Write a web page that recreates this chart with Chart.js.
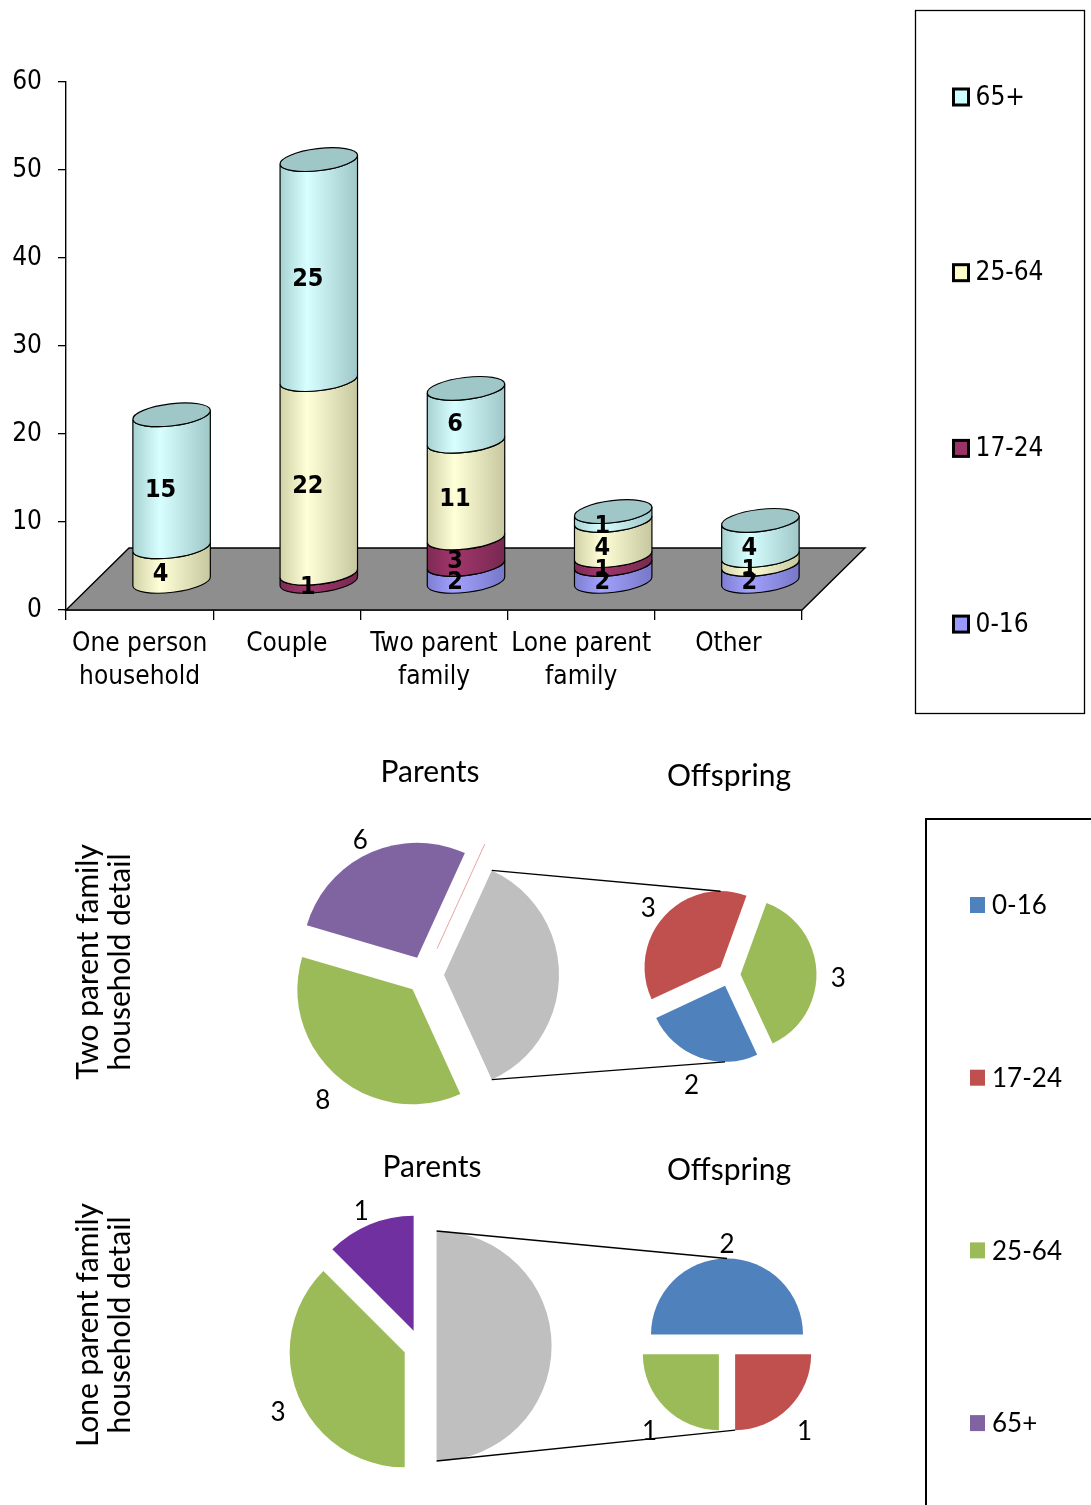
<!DOCTYPE html>
<html>
<head>
<meta charset="utf-8">
<script src="https://cdn.jsdelivr.net/npm/chart.js@4.4.1/dist/chart.umd.min.js"></script>
<style>
  body { margin: 0; background: #fff; }
  #page { position: relative; width: 1091px; height: 1505px; overflow: hidden; }
  canvas { position: absolute; left: 0; }
</style>
</head>
<body>
<div id="page">
  <canvas id="barChart" width="1091" height="720" style="top:0;width:1091px;height:720px"></canvas>
  <canvas id="tpParents" width="1091" height="785" style="top:720px;width:1091px;height:785px"></canvas>
  <canvas id="tpOffspring" width="1091" height="785" style="top:720px;width:1091px;height:785px"></canvas>
  <canvas id="lpParents" width="1091" height="785" style="top:720px;width:1091px;height:785px"></canvas>
  <canvas id="lpOffspring" width="1091" height="785" style="top:720px;width:1091px;height:785px"></canvas>
</div>
<script>
// ---- data ----
const householdTypes = [['One person', 'household'], 'Couple', ['Two parent', 'family'], ['Lone parent', 'family'], 'Other'];
const ageGroups = ['0-16', '17-24', '25-64', '65+'];
const age0to16  = [0, 0, 2, 2, 2];
const age17to24 = [0, 1, 3, 1, 0];
const age25to64 = [4, 22, 11, 4, 1];
const age65plus = [15, 25, 6, 1, 4];

// pie of pie detail (Offspring = the grey slice split out on the right)
const tpParentsLabels   = ['Offspring', '25-64', '65+', '17-24'];
const tpParentsValues   = [8, 8, 6, 0];
const tpOffspringLabels = ['25-64', '0-16', '17-24'];
const tpOffspringValues = [3, 2, 3];
const lpParentsLabels   = ['Offspring', '25-64', '65+'];
const lpParentsValues   = [4, 3, 1];
const lpOffspringLabels = ['0-16', '17-24', '25-64'];
const lpOffspringValues = [2, 1, 1];

// ---- styles ----
const barColors = ['#9999FF', '#993366', '#FFFFCC', '#CCFFFF'];
const pieColors = { '0-16': '#4F81BD', '17-24': '#C0504D', '25-64': '#9BBB59', '65+': '#8064A2', 'Offspring': '#BFBFBF' };
const TOP_FONT = '"DejaVu Sans Condensed", "DejaVu Sans", sans-serif';
const LOW_FONT = 'Lato, "Open Sans", sans-serif';
const BOTTOM_TOP = 720;   // page y of the pie canvases
const TILT = -0.12;

function shade(hex, f) {
  const n = parseInt(hex.slice(1), 16);
  const c = [(n >> 16) & 255, (n >> 8) & 255, n & 255].map(v => Math.min(255, Math.round(v * f)));
  return 'rgb(' + c.join(',') + ')';
}

function drawSegment(ctx, cx, yTop, yBot, rx, ry, color) {
  const g = ctx.createLinearGradient(cx - rx, 0, cx + rx, 0);
  g.addColorStop(0, shade(color, 0.82));
  g.addColorStop(0.35, shade(color, 1.06));
  g.addColorStop(1, shade(color, 0.78));
  ctx.beginPath();
  ctx.ellipse(cx, yBot, rx, ry, TILT, Math.PI, 0, true);
  ctx.ellipse(cx, yTop, rx, ry, TILT, 0, Math.PI, false);
  ctx.closePath();
  ctx.fillStyle = g;
  ctx.fill();
  ctx.stroke();
}

// 3D floor + cylinders, positioned from the bar elements
const cylinders = {
  id: 'cylinders',
  beforeDatasetsDraw(chart, args, o) {
    const ctx = chart.ctx, xs = chart.scales.x, ys = chart.scales.y;
    const y0 = ys.getPixelForValue(0);
    ctx.save();
    ctx.beginPath();
    ctx.moveTo(xs.left, y0);
    ctx.lineTo(xs.right, y0);
    ctx.lineTo(xs.right + o.depthX, y0 + o.depthY);
    ctx.lineTo(xs.left + o.depthX, y0 + o.depthY);
    ctx.closePath();
    ctx.fillStyle = '#8E8E8E';
    ctx.fill();
    ctx.lineWidth = 1.4;
    ctx.strokeStyle = '#000';
    ctx.stroke();

    const labels = [];
    ctx.lineWidth = 1.2;
    chart.data.labels.forEach((_, i) => {
      let topSeg = null;
      chart.data.datasets.forEach((ds, k) => {
        const v = ds.data[i];
        if (!v) return;
        const bar = chart.getDatasetMeta(k).data[i];
        const cx = bar.x + o.shiftX, rx = bar.width / 2;
        const yTop = bar.y + o.shiftY, yBot = bar.base + o.shiftY;
        drawSegment(ctx, cx, yTop, yBot, rx, o.ry, ds.backgroundColor);
        topSeg = { cx, rx, yTop, color: ds.backgroundColor };
        labels.push({ text: String(v), x: cx - 11, y: (yTop + yBot) / 2 + 10 });
      });
      if (topSeg) {
        ctx.beginPath();
        ctx.ellipse(topSeg.cx, topSeg.yTop, topSeg.rx, o.ry, TILT, 0, Math.PI * 2);
        ctx.fillStyle = shade(topSeg.color, 0.78);
        ctx.fill();
        ctx.stroke();
      }
    });
    ctx.fillStyle = '#000';
    ctx.font = 'bold 25px ' + TOP_FONT;
    ctx.textAlign = 'center';
    ctx.textBaseline = 'middle';
    labels.forEach(l => ctx.fillText(l.text, l.x, l.y));
    ctx.restore();
    return false;
  }
};

const boxLegend = {
  id: 'boxLegend',
  afterDraw(chart, args, o) {
    const ctx = chart.ctx;
    ctx.save();
    ctx.strokeStyle = '#000';
    ctx.lineWidth = 1.3;
    ctx.strokeRect(o.x, o.y, o.w, o.h);
    ctx.font = '26px ' + TOP_FONT;
    ctx.textBaseline = 'middle';
    ctx.textAlign = 'left';
    const items = chart.data.datasets.slice().reverse();
    items.forEach((ds, k) => {
      const y = o.firstY + k * o.stepY;
      ctx.fillStyle = ds.backgroundColor;
      ctx.fillRect(o.x + 38, y - 8, 15, 16);
      ctx.lineWidth = 3;
      ctx.strokeRect(o.x + 38, y - 8, 15, 16);
      ctx.fillStyle = '#000';
      ctx.fillText(ds.label, o.x + 60, y + 1);
    });
    ctx.restore();
  }
};

new Chart(document.getElementById('barChart'), {
  type: 'bar',
  data: {
    labels: householdTypes,
    datasets: [age0to16, age17to24, age25to64, age65plus].map((data, k) => ({
      label: ageGroups[k], data, backgroundColor: barColors[k]
    }))
  },
  options: {
    responsive: false,
    animation: false,
    layout: { padding: { top: 82, right: 289, left: 0, bottom: 0 } },
    datasets: { bar: { barPercentage: 0.53, categoryPercentage: 1 } },
    plugins: {
      legend: { display: false },
      tooltip: { enabled: false },
      cylinders: { depthX: 63, depthY: -62, shiftX: 32, shiftY: -28, ry: 11 },
      boxLegend: { x: 915.5, y: 10.5, w: 169, h: 703, firstY: 97, stepY: 175.7 }
    },
    scales: {
      x: {
        stacked: true,
        grid: { offset: true, drawOnChartArea: false, tickLength: 10, color: '#000', lineWidth: 1.3 },
        border: { color: '#000', width: 1.4 },
        ticks: { color: '#000', font: { family: TOP_FONT, size: 26, lineHeight: 1.25 }, padding: 8, maxRotation: 0, autoSkip: false },
        afterFit(s) { s.height = 110; }
      },
      y: {
        stacked: true,
        min: 0, max: 60,
        grid: { drawOnChartArea: false, tickLength: 8, color: '#000', lineWidth: 1.3 },
        border: { color: '#000', width: 1.4 },
        ticks: { stepSize: 10, color: '#000', font: { family: TOP_FONT, size: 26 }, padding: 16 },
        afterFit(s) { s.width = 66; }
      }
    }
  },
  plugins: [cylinders, boxLegend]
});

// ---- pies ----
const pieCharts = {};

function arcGeom(chart, i, explode) {
  const arc = chart.getDatasetMeta(0).data[i];
  const mid = (arc.startAngle + arc.endAngle) / 2;
  return {
    cx: arc.x, cy: arc.y,
    x: arc.x + Math.cos(mid) * explode, y: arc.y + Math.sin(mid) * explode,
    r: arc.outerRadius, s: arc.startAngle, e: arc.endAngle, mid
  };
}

function extremePoint(chart, ang, explode, sign) {
  const n = chart.data.datasets[0].data.length;
  for (let i = 0; i < n; i++) {
    const a = arcGeom(chart, i, explode);
    if (a.e - a.s < 1e-6) continue;
    let t = ang;
    while (t < a.s) t += Math.PI * 2;
    while (t > a.s + Math.PI * 2) t -= Math.PI * 2;
    if (t <= a.e) return { x: a.x, y: a.y + sign * a.r };
  }
  return null;
}

const explodedPie = {
  id: 'explodedPie',
  beforeDatasetsDraw(chart, args, o) {
    const ctx = chart.ctx, ds = chart.data.datasets[0];
    ctx.save();
    ds.data.forEach((v, i) => {
      const a = arcGeom(chart, i, o.explode);
      if (v === 0) {
        const dx = Math.cos(a.s), dy = Math.sin(a.s);
        ctx.strokeStyle = '#E9A3A3';
        ctx.lineWidth = 1;
        ctx.beginPath();
        ctx.moveTo(a.cx + dx * o.zeroOffset, a.cy + dy * o.zeroOffset);
        ctx.lineTo(a.cx + dx * (o.zeroOffset + a.r), a.cy + dy * (o.zeroOffset + a.r));
        ctx.stroke();
        return;
      }
      ctx.beginPath();
      ctx.moveTo(a.x, a.y);
      ctx.arc(a.x, a.y, a.r, a.s, a.e);
      ctx.closePath();
      ctx.fillStyle = ds.backgroundColor[i];
      ctx.fill();
      if (chart.data.labels[i] !== 'Offspring') {
        const lr = a.r + o.labelGap;
        ctx.fillStyle = '#000';
        ctx.font = '26px ' + LOW_FONT;
        ctx.textAlign = 'center';
        ctx.textBaseline = 'middle';
        ctx.fillText(String(v), a.x + Math.cos(a.mid) * lr, a.y + Math.sin(a.mid) * lr + 8);
      }
    });
    ctx.restore();
    return false;
  },
  afterDraw(chart, args, o) {
    const ctx = chart.ctx;
    ctx.save();
    ctx.fillStyle = '#000';
    ctx.textAlign = 'center';
    ctx.textBaseline = 'middle';
    if (o.title) {
      ctx.font = '30px ' + LOW_FONT;
      ctx.fillText(o.title.text, o.title.x, o.title.y);
    }
    if (o.rowLabel) {
      ctx.font = '30px ' + LOW_FONT;
      ctx.translate(o.rowLabel.x, o.rowLabel.y);
      ctx.rotate(-Math.PI / 2);
      o.rowLabel.lines.forEach((t, k) => ctx.fillText(t, 0, (k - 0.5) * 32));
      ctx.setTransform(1, 0, 0, 1, 0, 0);
    }
    if (o.link) {
      const parent = pieCharts[o.link.from];
      const g = arcGeom(parent, 0, o.link.parentExplode);
      const p1 = { x: g.x + g.r * Math.cos(g.s), y: g.y + g.r * Math.sin(g.s) };
      const p2 = { x: g.x + g.r * Math.cos(g.e), y: g.y + g.r * Math.sin(g.e) };
      const q1 = extremePoint(chart, -Math.PI / 2, o.explode, -1);
      const q2 = extremePoint(chart, Math.PI / 2, o.explode, 1);
      ctx.strokeStyle = '#000';
      ctx.lineWidth = 1.3;
      ctx.beginPath();
      ctx.moveTo(p1.x, p1.y); ctx.lineTo(q1.x, q1.y);
      ctx.moveTo(p2.x, p2.y); ctx.lineTo(q2.x, q2.y);
      ctx.stroke();
    }
    if (o.legend) {
      const L = o.legend;
      ctx.strokeStyle = '#000';
      ctx.lineWidth = 2;
      ctx.strokeRect(L.x, L.y, 400, 1000);
      ctx.font = '26px ' + LOW_FONT;
      ctx.textAlign = 'left';
      ageGroups.forEach((age, k) => {
        const y = L.firstY + k * L.stepY;
        ctx.fillStyle = pieColors[age];
        ctx.fillRect(L.x + 44, y - 8, 15, 16);
        ctx.fillStyle = '#000';
        ctx.fillText(age, L.x + 66, y + 1);
      });
    }
    ctx.restore();
  }
};

function makePie(id, labels, values, opt) {
  const W = 1091, H = 785, s = 150;
  const cy = opt.cy - BOTTOM_TOP;
  const colors = labels.map(l => (l === '65+' && opt.purple) ? opt.purple : pieColors[l]);
  pieCharts[id] = new Chart(document.getElementById(id), {
    type: 'pie',
    data: { labels, datasets: [{ data: values, backgroundColor: colors, borderWidth: 0 }] },
    options: {
      responsive: false,
      animation: false,
      rotation: opt.rotation,
      radius: opt.radius,
      layout: { padding: { left: opt.cx - s, right: W - opt.cx - s, top: cy - s, bottom: H - cy - s } },
      plugins: {
        legend: { display: false },
        tooltip: { enabled: false },
        explodedPie: Object.assign({ explode: opt.explode, labelGap: 22, zeroOffset: 29 }, opt.extra)
      }
    },
    plugins: [explodedPie]
  });
}

const sum = a => a.reduce((p, c) => p + c, 0);

makePie('tpParents', tpParentsLabels, tpParentsValues, {
  cx: 425, cy: 975, radius: 115, explode: 19,
  rotation: 90 - 180 * tpParentsValues[0] / sum(tpParentsValues),
  extra: {
    title: { text: 'Parents', x: 430, y: 772 - BOTTOM_TOP },
    rowLabel: { lines: ['Two parent family', 'household detail'], x: 104, y: 962 - BOTTOM_TOP }
  }
});
makePie('tpOffspring', tpOffspringLabels, tpOffspringValues, {
  cx: 729, cy: 975, radius: 76, explode: 11.5, rotation: 20,
  extra: {
    title: { text: 'Offspring', x: 729, y: 776 - BOTTOM_TOP },
    link: { from: 'tpParents', parentExplode: 19 }
  }
});
makePie('lpParents', lpParentsLabels, lpParentsValues, {
  cx: 420, cy: 1346, radius: 115, explode: 16.6, purple: '#7030A0',
  rotation: 90 - 180 * lpParentsValues[0] / sum(lpParentsValues),
  extra: {
    title: { text: 'Parents', x: 432, y: 1167 - BOTTOM_TOP },
    rowLabel: { lines: ['Lone parent family', 'household detail'], x: 104, y: 1325 - BOTTOM_TOP }
  }
});
makePie('lpOffspring', lpOffspringLabels, lpOffspringValues, {
  cx: 727, cy: 1346, radius: 76, explode: 11.5, rotation: -90,
  extra: {
    title: { text: 'Offspring', x: 729, y: 1170 - BOTTOM_TOP },
    link: { from: 'lpParents', parentExplode: 16.6 },
    legend: { x: 926, y: 819 - BOTTOM_TOP, firstY: 905 - BOTTOM_TOP, stepY: 172.7 }
  }
});
</script>
</body>
</html>
